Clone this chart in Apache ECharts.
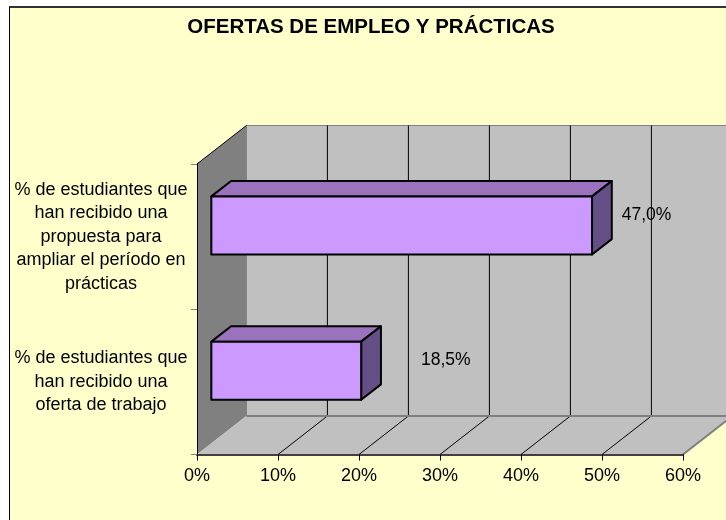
<!DOCTYPE html>
<html>
<head>
<meta charset="utf-8">
<script src="https://cdn.jsdelivr.net/npm/echarts@6/dist/echarts.min.js"></script>
<style>
  html, body { margin: 0; padding: 0; background: #fff; }
  #wrap { position: relative; width: 726px; height: 520px; overflow: hidden; }
  #paper { position: absolute; left: 9px; top: 6px; width: 800px; height: 600px;
           background: #FFFFCC; border-top: 2px solid #333; border-left: 1px solid #000; }
  #chart { position: absolute; left: 0; top: 0; width: 726px; height: 520px; }
</style>
</head>
<body>
<div id="wrap">
  <div id="paper"></div>
  <div id="chart"></div>
</div>
<script>
// datos
const title = "OFERTAS DE EMPLEO Y PRÁCTICAS";
const categories = [
  "% de estudiantes que\nhan recibido una\npropuesta para\nampliar el período en\nprácticas",
  "% de estudiantes que\nhan recibido una\noferta de trabajo"
];
const values = [47.0, 18.5];
const xMin = 0, xMax = 60, xStep = 10;

// efecto 3D (desplazamiento del fondo)
const DX = 49.4, DY = 38.5;
const zFront = 0.29, zBack = 0.69;
const labelGap = [10, 40];
const font = "'Liberation Sans', Arial, sans-serif";

const chart = echarts.init(document.getElementById("chart"));

function renderWalls(params, api) {
  const cs = params.coordSys;
  const x0 = cs.x, yT = cs.y, yB = cs.y + cs.height;
  const xEnd = api.coord([xMax, 0])[0];
  const children = [];
  // pared del fondo
  children.push({ type: "rect", shape: { x: x0 + DX, y: yT - DY, width: xEnd - x0, height: cs.height },
    style: { fill: "#C0C0C0", stroke: "#808080", lineWidth: 1 } });
  // pared lateral
  children.push({ type: "polygon", shape: { points: [[x0, yT], [x0 + DX, yT - DY], [x0 + DX, yB - DY], [x0, yB]] },
    style: { fill: "#808080", stroke: null } });
  children.push({ type: "line", shape: { x1: x0, y1: yT, x2: x0 + DX, y2: yT - DY },
    style: { stroke: "#000", lineWidth: 1 } });
  // suelo
  children.push({ type: "polygon", shape: { points: [[x0, yB], [x0 + DX, yB - DY], [xEnd + DX, yB - DY], [xEnd, yB]] },
    style: { fill: "#C0C0C0", stroke: null } });
  // líneas de división
  for (let v = xMin + xStep; v <= xMax; v += xStep) {
    const x = api.coord([v, 0])[0];
    children.push({ type: "line", shape: { x1: x + DX, y1: yT - DY, x2: x + DX, y2: yB - DY },
      style: { stroke: "#000", lineWidth: 1 } });
    children.push({ type: "line", shape: { x1: x, y1: yB, x2: x + DX, y2: yB - DY },
      style: { stroke: "#000", lineWidth: 1 } });
  }
  children.push({ type: "line", shape: { x1: x0 + DX, y1: yB - DY, x2: xEnd + DX, y2: yB - DY },
    style: { stroke: "#808080", lineWidth: 2 } });
  children.push({ type: "line", shape: { x1: xEnd, y1: yB, x2: xEnd + DX, y2: yB - DY },
    style: { stroke: "#808080", lineWidth: 2 } });
  return { type: "group", children: children };
}

function renderBar(params, api) {
  const i = api.value(1);
  const start = api.coord([0, i]);
  const end = api.coord([api.value(0), i]);
  const h = api.size([0, 1])[1] * 0.4;
  const xa = start[0] + zFront * DX, xb = end[0] + zFront * DX;
  const yc = start[1] - zFront * DY;
  const yt = yc - h / 2, yb = yc + h / 2;
  const d = (zBack - zFront) * DX, e = (zBack - zFront) * DY;
  const line = { stroke: "#000", lineWidth: 2, lineJoin: "round" };
  return {
    type: "group",
    children: [
      { type: "polygon", shape: { points: [[xa, yt], [xa + d, yt - e], [xb + d, yt - e], [xb, yt]] },
        style: Object.assign({ fill: "#9A72BE" }, line) },
      { type: "polygon", shape: { points: [[xb, yt], [xb + d, yt - e], [xb + d, yb - e], [xb, yb]] },
        style: Object.assign({ fill: "#644F86" }, line) },
      { type: "rect", shape: { x: xa, y: yt, width: xb - xa, height: h },
        style: Object.assign({ fill: "#CC99FF" }, line) },
      { type: "text", x: xb + d + labelGap[params.dataIndex], y: yc - e * 0.7,
        style: { text: api.value(0).toFixed(1).replace(".", ",") + "%", fill: "#000",
                 font: "17.5px " + font, textAlign: "left", textVerticalAlign: "middle" } }
    ]
  };
}

const option = {
  animation: false,
  graphic: [{
    type: "text", x: 371, y: 27,
    style: { text: title, fill: "#000", font: "bold 20.5px " + font,
             textAlign: "center", textVerticalAlign: "middle" }
  }],
  grid: { left: 197, top: 164, width: 486, height: 290.5 },
  xAxis: {
    type: "value", min: xMin, max: xMax, interval: xStep, z: 5,
    axisLine: { show: true, lineStyle: { color: "#404040", width: 2 } },
    axisTick: { show: true, length: 6, lineStyle: { color: "#000" } },
    splitLine: { show: false },
    axisLabel: { formatter: "{value}%", color: "#000", fontSize: 18, fontFamily: font, margin: 13 }
  },
  yAxis: {
    type: "category", data: categories, inverse: true, z: 5,
    axisLine: { show: true, lineStyle: { color: "#000", width: 1 } },
    axisTick: { show: true, length: 6, lineStyle: { color: "#808080" } },
    axisLabel: { interval: 0, align: "center", margin: 96, color: "#000",
                 fontSize: 18, fontFamily: font, lineHeight: 23.5 }
  },
  series: [
    { type: "custom", z: 1, silent: true, renderItem: renderWalls, data: [[0, 0]] },
    { type: "custom", z: 3, renderItem: renderBar, data: values.map((v, i) => [v, i]) }
  ]
};

chart.setOption(option);
</script>
</body>
</html>
